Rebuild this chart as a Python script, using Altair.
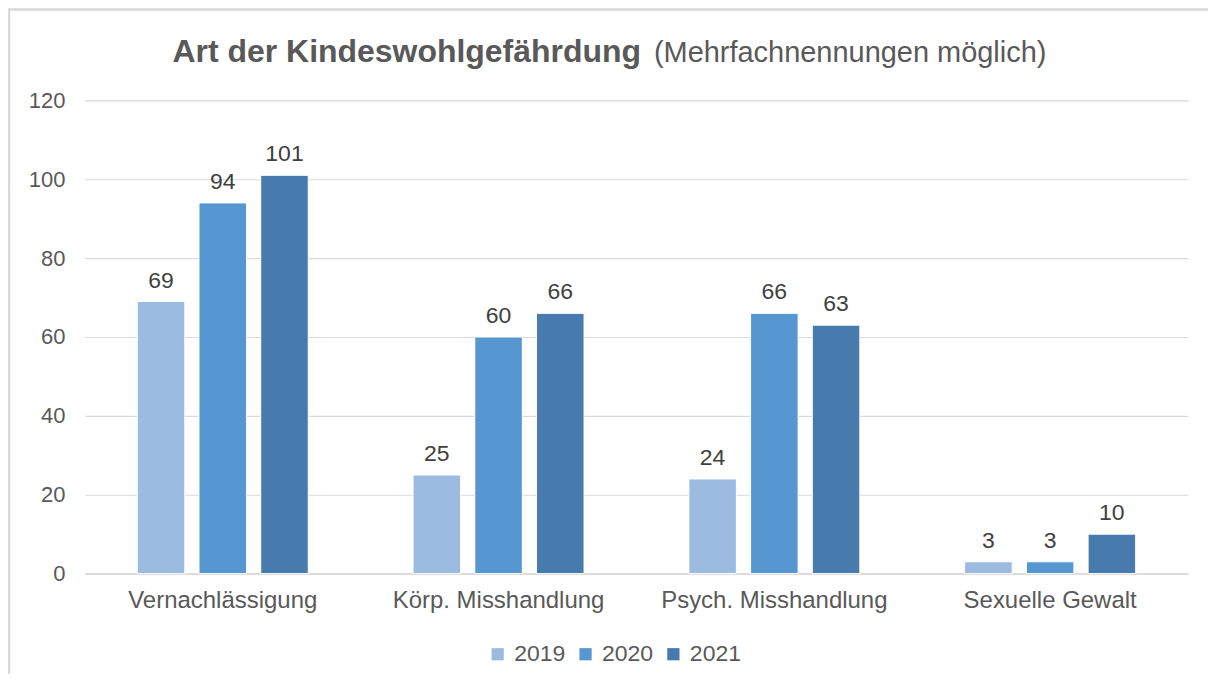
import altair as alt
import pandas as pd

categories = ["Vernachlässigung", "Körp. Misshandlung", "Psych. Misshandlung", "Sexuelle Gewalt"]
years = ["2019", "2020", "2021"]
values_2019 = [69, 25, 24, 3]
values_2020 = [94, 60, 66, 3]
values_2021 = [101, 66, 63, 10]
colors = ["#9BBBE1", "#5797D1", "#477BAD"]
y_ticks = [0, 20, 40, 60, 80, 100, 120]

rows = []
for yr, vals in zip(years, [values_2019, values_2020, values_2021]):
    for c, v in zip(categories, vals):
        rows.append({"Kategorie": c, "Jahr": yr, "Wert": v})
df = pd.DataFrame(rows)

FONT = "Liberation Sans"
GRAY = "#595959"

x_enc = alt.X("Kategorie:N", sort=categories,
              scale=alt.Scale(paddingInner=0.38, paddingOuter=0.19),
              axis=alt.Axis(title=None, labelAngle=0, ticks=False, domain=True, domainColor="#D9D9D9",
                            domainWidth=1.5, labelFontSize=24, labelColor=GRAY,
                            labelFont=FONT, labelPadding=15, grid=False, labelLimit=0))
xo_enc = alt.XOffset("Jahr:N", sort=years, scale=alt.Scale(paddingInner=0.23, paddingOuter=0))
y_enc = alt.Y("Wert:Q", scale=alt.Scale(domain=[0, 120], nice=False),
              axis=alt.Axis(title=None, values=y_ticks, ticks=False, domain=False,
                            gridColor="#D9D9D9", gridWidth=1.2, labelFontSize=22,
                            labelColor=GRAY, labelFont=FONT, labelPadding=20))

base = alt.Chart(df)

bars = base.mark_bar(stroke="white", strokeWidth=1).encode(
    x=x_enc, xOffset=xo_enc, y=y_enc,
    color=alt.Color("Jahr:N", sort=years, scale=alt.Scale(domain=years, range=colors),
                    legend=alt.Legend(title=None, orient="none", direction="horizontal",
                                      legendX=402, legendY=543, symbolType="square",
                                      symbolSize=150, symbolStrokeWidth=0,
                                      labelFontSize=23, labelColor=GRAY, labelFont=FONT,
                                      columnPadding=8, labelOffset=5)),
)

labels = base.mark_text(baseline="bottom", dy=-9, fontSize=23, color="#404040", font=FONT).encode(
    x=x_enc, xOffset=xo_enc, y=y_enc, text="Wert:Q",
)

title_df = pd.DataFrame({"t": ["Art der Kindeswohlgefährdung"], "s": ["(Mehrfachnennungen  möglich)"]})
title_bold = alt.Chart(title_df).mark_text(align="right", baseline="alphabetic", fontSize=32,
                                           fontWeight="bold", color=GRAY, font=FONT).encode(
    x=alt.value(557), y=alt.value(-38), text="t:N")
title_norm = alt.Chart(title_df).mark_text(align="left", baseline="alphabetic", fontSize=29,
                                           color=GRAY, font=FONT).encode(
    x=alt.value(570), y=alt.value(-38), text="s:N")

frame_left = alt.Chart(title_df).mark_rule(color="#D9D9D9", strokeWidth=2.5).encode(
    x=alt.value(-76), y=alt.value(-91), y2=alt.value(600))
frame_top = alt.Chart(title_df).mark_rule(color="#D9D9D9", strokeWidth=2.5).encode(
    x=alt.value(-77), x2=alt.value(1150), y=alt.value(-91))

chart = alt.layer(bars, labels, title_bold, title_norm, frame_left, frame_top).properties(
    width=1105, height=474,
    autosize=alt.AutoSizeParams(type="none"),
    padding={"left": 77, "top": 92, "right": 20, "bottom": 100},
    view=alt.ViewBackground(strokeWidth=0, strokeOpacity=0),
).configure_view(strokeWidth=0, strokeOpacity=0).configure_axisY(domain=False).configure(background="white")

chart.save("out.html", embed_options={"renderer": "svg", "actions": False})
